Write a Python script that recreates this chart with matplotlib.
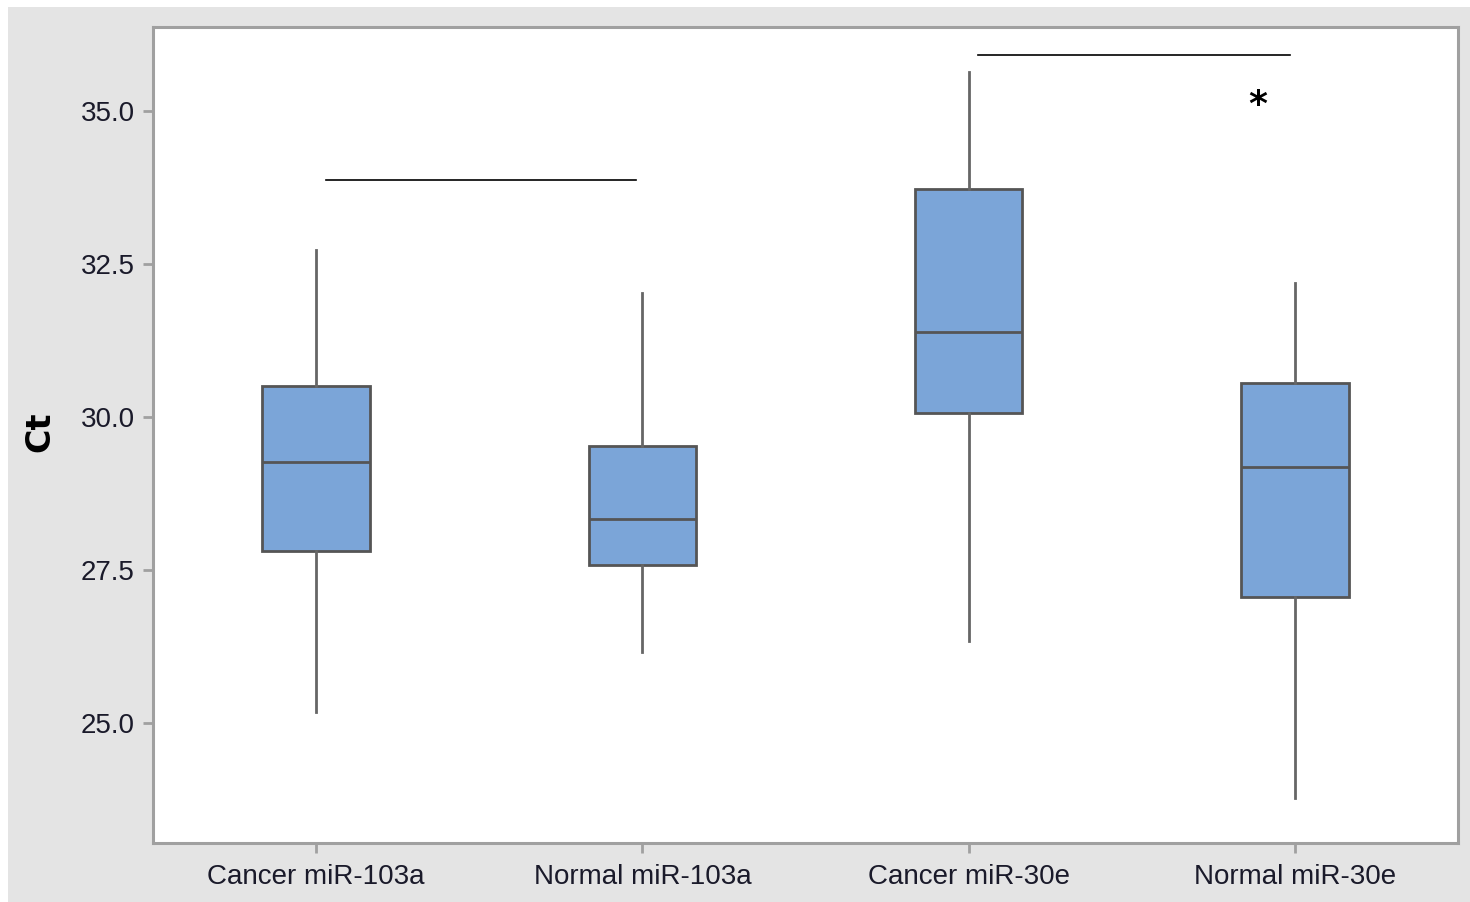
import matplotlib
matplotlib.use("Agg")
import matplotlib.pyplot as plt
from matplotlib.patches import Rectangle

# data
groups = ["Cancer miR-103a", "Normal miR-103a", "Cancer miR-30e", "Normal miR-30e"]
whislo = [25.18, 26.16, 26.34, 23.77]
q1 = [27.81, 27.58, 30.07, 27.06]
med = [29.26, 28.33, 31.39, 29.18]
q3 = [30.51, 29.53, 33.73, 30.56]
whishi = [32.73, 32.03, 35.64, 32.19]
yticks = [25.0, 27.5, 30.0, 32.5, 35.0]

# significance bars (x from, x to, y) and star
sig_bars = [(1.03, 1.98, 33.87), (3.03, 3.985, 35.92)]
star_pos = (3.885, 35.1)

plt.rcParams['font.family'] = ['Liberation Sans', 'DejaVu Sans']

fig = plt.figure(figsize=(14.7, 9.02), dpi=100, facecolor="white")
# grey panel like the minitab graph window
fig.patches.append(Rectangle((8/1470, 0), 1, 1 - 7/902, transform=fig.transFigure,
                             facecolor="#e4e4e4", edgecolor="none", zorder=-1))

ax = fig.add_axes([153/1470, 1 - 843/902, (1458-153)/1470, (843-27)/902])
ax.set_facecolor("white")

stats = []
for i in range(len(groups)):
    stats.append({"whislo": whislo[i], "q1": q1[i], "med": med[i], "q3": q3[i],
                  "whishi": whishi[i], "label": groups[i]})

ax.bxp(stats, positions=[1, 2, 3, 4], widths=0.33, showfliers=False, showcaps=False,
       patch_artist=True,
       boxprops=dict(facecolor="#7ba5d8", edgecolor="#555555", linewidth=2),
       medianprops=dict(color="#555555", linewidth=2),
       whiskerprops=dict(color="#666666", linewidth=2))

for x0, x1, y in sig_bars:
    ax.plot([x0, x1], [y, y], color="black", linewidth=1.2)
ax.text(star_pos[0], star_pos[1], "*", fontsize=26, fontweight="bold",
        ha="center", va="center", family="DejaVu Sans")

ax.set_xlim(0.5, 4.5)
ax.set_ylim(23.04, 36.37)
ax.set_yticks(yticks)
ax.set_yticklabels(["%.1f" % t for t in yticks])
ax.set_xticklabels(groups)

for sp in ax.spines.values():
    sp.set_color("#a0a0a0")
    sp.set_linewidth(2.2)
ax.tick_params(axis="both", colors="#a0a0a0", width=2, length=7, labelcolor="#1a1a2a",
               labelsize=20)
ax.tick_params(axis="x", pad=8)
ax.tick_params(axis="y", pad=6)

fig.text(40/1470, 1 - 432/902, "Ct", rotation=90, fontsize=24, fontweight="bold",
         ha="center", va="center", family="DejaVu Sans")

fig.savefig("out.png", dpi=100, facecolor=fig.get_facecolor())
